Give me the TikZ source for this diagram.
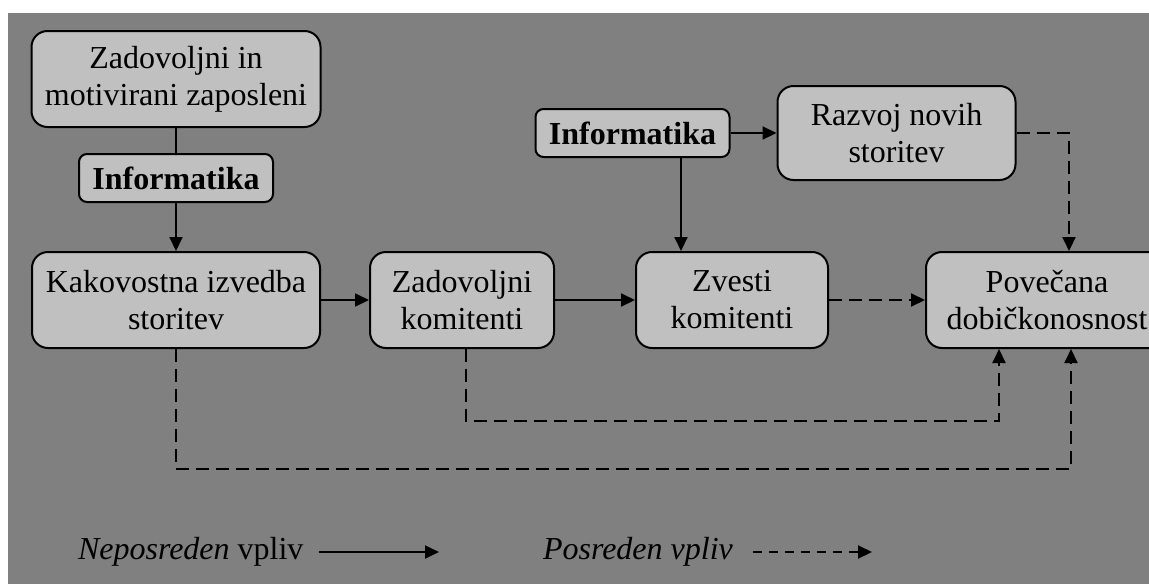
\documentclass[tikz,border=0pt]{standalone}
\usepackage{fontspec}
\setmainfont{Liberation Serif}
\usepackage{tikz}
\usetikzlibrary{positioning,arrows.meta}
\usepackage{xcolor}
\definecolor{bgGray}{HTML}{808080}
\definecolor{boxGray}{HTML}{C0C0C0}

\begin{document}
\begin{tikzpicture}[x=0.5pt,y=-0.5pt,>={Triangle[length=7pt,width=6.5pt]},line width=1pt]
  \tikzstyle{box}=[draw,rounded corners=8pt,fill=boxGray,align=center,inner sep=2pt,font=\fontsize{16}{18.5}\selectfont,minimum height=48pt]
  \tikzstyle{ibox}=[draw,rounded corners=4pt,fill=boxGray,align=center,inner sep=2pt,font=\fontsize{16}{18.5}\selectfont\bfseries,minimum height=24pt,minimum width=97pt]
  \tikzstyle{dline}=[dash pattern=on 6.5pt off 3.5pt]
  \fill[white] (0,0) rectangle (1149,584);
  \useasboundingbox (0,0) rectangle (1149,584);
  \fill[bgGray] (8,13) rectangle (1149,584);
  \node[box,minimum width=144pt] (kak) at (176,300) {Kakovostna izvedba\\storitev};
  \node[ibox,above=24pt of kak] (inf1) {Informatika};
  \node[box,above=12.5pt of inf1,minimum width=144.5pt] (zap) {Zadovoljni in\\motivirani zaposleni};
  \node[box,right=24pt of kak,minimum width=92pt] (zad) {Zadovoljni\\komitenti};
  \node[box,right=40pt of zad,minimum width=96pt] (zve) {Zvesti\\komitenti};
  \node[box,right=48pt of zve,minimum width=121pt] (pov) {Povečana\\dobičkonosnost};
  \node[ibox] (inf2) at (632.5,133) {Informatika};
  \node[box,right=23pt of inf2,minimum width=119pt,minimum height=47pt] (raz) {Razvoj novih\\storitev};
  \node[anchor=west,inner sep=0pt,font=\fontsize{16}{18.5}\selectfont] (lneg) at (77,552) {\textit{Neposreden} vpliv};
  \node[anchor=west,inner sep=0pt,font=\fontsize{16}{18.5}\selectfont] (lpos) at (542,552) {\textit{Posreden vpliv}};
  \coordinate (lnegA) at (319,552);
  \coordinate (lnegB) at (439,552);
  \coordinate (lposA) at (753,552);
  \coordinate (lposB) at (872,552);
  \draw (zap) -- (inf1);
  \draw[->] (inf1) -- (kak);
  \draw[->] (kak) -- (zad);
  \draw[->] (zad) -- (zve);
  \draw[->,dline] (zve) -- (pov);
  \draw[->] (inf2) -- (raz);
  \draw[->] ([xshift=24.25pt]inf2.south) -- ([xshift=24.25pt]inf2.south |- zve.north);
  \draw[->,dline] (raz.east) -| ([xshift=11pt]pov.north);
  \draw[->,dline] ([xshift=2pt]zad.south) -- ++(0,72) -| ([xshift=-24pt]pov.south);
  \draw[->,dline] (kak.south) -- ++(0,120) -| ([xshift=12pt]pov.south);
  \draw[->] (lnegA) -- (lnegB);
  \draw[->,dash pattern=on 4.5pt off 3.5pt] (lposA) -- (lposB);
\end{tikzpicture}
\end{document}
